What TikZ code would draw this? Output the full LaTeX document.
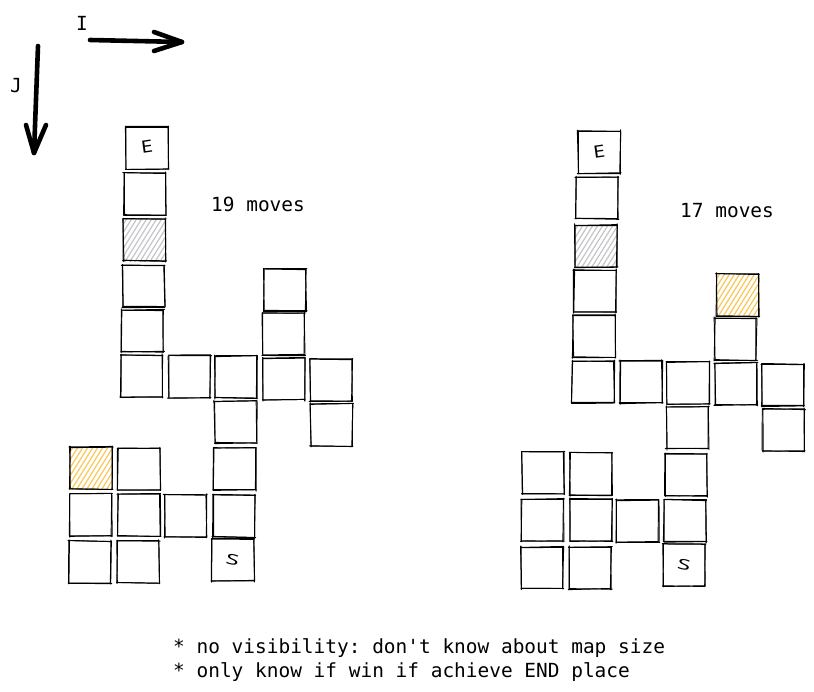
\documentclass[tikz,border=0pt]{standalone}
\usepackage{fontspec}
\setmonofont{DejaVu Sans Mono}
\newfontfamily\handfont{Noto Sans}
\definecolor{hatchgray}{HTML}{C4C4C9}
\definecolor{hatchorange}{HTML}{F7C75A}
\tikzset{
  rough/.style={line width=0.95pt,black,line cap=round},
  hatchline/.style={line width=1.2pt,line cap=butt},
  thickarrow/.style={line width=4.6pt,black,line cap=round,line join=round},
  label/.style={inner sep=0pt,anchor=base west,font=\ttfamily\fontsize{19.45}{22}\selectfont},
  axislabel/.style={inner sep=0pt,font=\ttfamily\fontsize{19.45}{22}\selectfont},
  letter/.style={inner sep=0pt,font=\handfont\fontsize{17}{20}\selectfont}
}
\newcommand{\skside}[5]{%
  \draw[rough] ({#1+#5*(-0.6)+0.7*rand},{#2+0.7*rand}) -- ({#3+#5*0.2+0.7*rand},{#4+0.7*rand});
  \draw[rough] ({#1+#5*0.2+0.7*rand},{#2+0.7*rand}) -- ({#3+#5*0.6+0.7*rand},{#4+0.7*rand});}
\newcommand{\skvert}[5]{%
  \draw[rough] ({#1+0.7*rand},{#2+#5*(-0.6)+0.7*rand}) -- ({#3+0.7*rand},{#4+#5*0.2+0.7*rand});
  \draw[rough] ({#1+0.7*rand},{#2+#5*0.2+0.7*rand}) -- ({#3+0.7*rand},{#4+#5*0.6+0.7*rand});}
\newcommand{\skcell}[2]{%
  \skside{#1-21}{#2-21}{#1+21}{#2-21}{1}%
  \skvert{#1+21}{#2-21}{#1+21}{#2+21}{1}%
  \skside{#1+21}{#2+21}{#1-21}{#2+21}{-1}%
  \skvert{#1-21}{#2+21}{#1-21}{#2-21}{-1}}
\newcommand{\hatchcell}[3]{%
  \begin{scope}
    \clip (#1-21,#2-21) rectangle (#1+21,#2+21);
    \foreach \d in {-45,-40,...,45} {
      \draw[hatchline,#3] (#1-21+\d,#2+24) -- (#1+9+\d,#2-24);
    }
  \end{scope}}
\begin{document}
\begin{tikzpicture}[x=1pt,y=-1pt]
\pgfmathsetseed{4217}
\useasboundingbox (0,0) rectangle (814,691);
% hatched fills
\hatchcell{144.5}{240}{hatchgray}
\hatchcell{91}{468}{hatchorange}
\hatchcell{596}{246}{hatchgray}
\hatchcell{737.5}{295}{hatchorange}
% left grid
\foreach \cx/\cy in {147/148,145/194,144.5/240,143.5/286,142.5/331,141.5/376,189.5/376.5,236/377,284/379,331/380,285/290,283.5/334,235.5/422,331.5/425,234.5/469,234/516,185.5/516,139/515,90.5/515,91/468,139/469,90/562,138/562,233/560} {
  \skcell{\cx}{\cy}
}
% right grid
\foreach \cx/\cy in {599/152,597/198,596/246,595/291,594/336,593/382,641/382,688/383,736/384,783/385,737.5/295,735.5/339,687.5/428,783.5/430,686/475,685/521,637.5/521,591/520,542.5/520,543/473,591/474,542/568,590/568,684/565} {
  \skcell{\cx}{\cy}
}
% letters
\node[letter,rotate=8,xscale=1.25] (eleft) at (147,147) {E};
\node[letter,rotate=8,xscale=1.25] (eright) at (599,152) {E};
\node[letter,rotate=-12,xscale=1.4,yscale=0.85] (sleft) at (232.5,560) {S};
\node[letter,rotate=-12,xscale=1.4,yscale=0.85] (sright) at (684,565) {S};
% axes
\coordinate (istart) at (90,40);
\coordinate (itip) at (182,42);
\coordinate (iup) at (154,32);
\coordinate (idown) at (154,51);
\coordinate (jstart) at (38,46);
\coordinate (jtip) at (34,153);
\coordinate (jleft) at (26,125);
\coordinate (jright) at (46,125);
\draw[thickarrow] (istart) -- (itip);
\draw[thickarrow] (iup) -- (itip) -- (idown);
\draw[thickarrow] (jstart) -- (jtip);
\draw[thickarrow] (jleft) -- (jtip) -- (jright);
\node[axislabel] (ilabel) at (82,23) {I};
\node[axislabel] (jlabel) at (16,86) {J};
% texts
\node[label] (movesleft) at (211,211) {19 moves};
\node[label] (movesright) at (680,217) {17 moves};
\node[label] (noteone) at (173,653) {* no visibility: don't know about map size};
\node[label] (notetwo) at (173,677) {* only know if win if achieve END place};
\end{tikzpicture}
\end{document}
